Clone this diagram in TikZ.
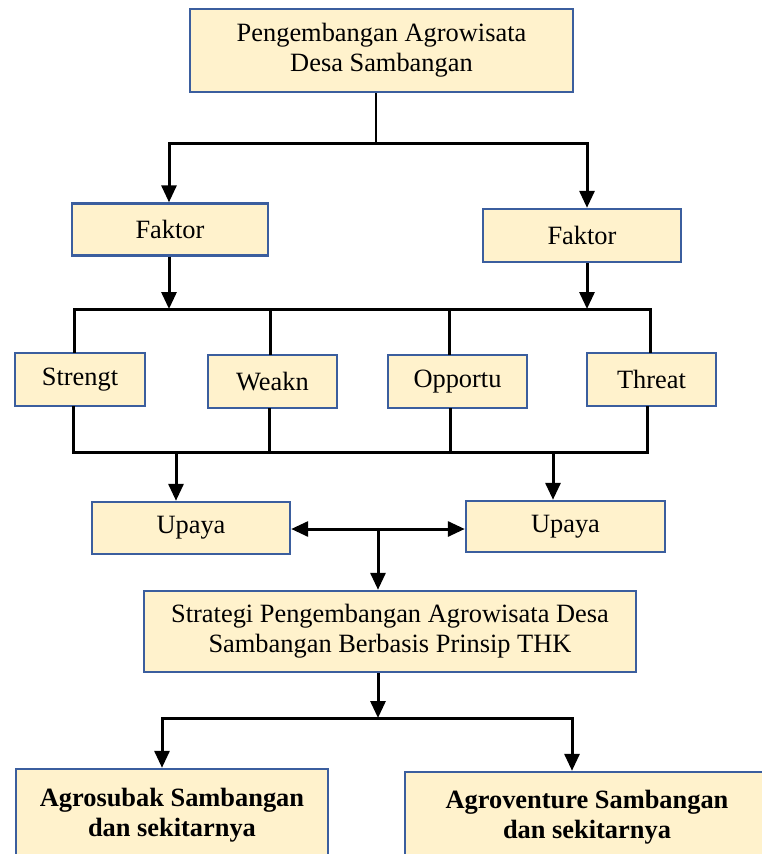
\documentclass[tikz,border=0pt]{standalone}
\usepackage{fontspec}
\setmainfont{Liberation Serif}
\usetikzlibrary{arrows.meta}
\definecolor{boxfill}{HTML}{FFF2CC}
\definecolor{boxline}{HTML}{3B5E9E}
\tikzset{
  box/.style={draw=boxline, fill=boxfill, line width=2.4pt, inner sep=0pt, align=center,
    font=\fontsize{26.4}{30}\selectfont},
  conn/.style={line width=3pt, line join=miter, line cap=rect},
  arr/.style={line width=3pt, -{Triangle[length=17pt,width=15pt]}},
  darr/.style={line width=3pt, {Triangle[length=17pt,width=15pt]}-{Triangle[length=17pt,width=15pt]}},
}
\begin{document}
\begin{tikzpicture}[x=1pt,y=-1pt]
\useasboundingbox (0,0) rectangle (762,854);
\clip (0,0) rectangle (762,854);
% boxes
\node[box, minimum width=383pt, minimum height=83pt] (top) at (381.5,50.5) {Pengembangan Agrowisata\\Desa Sambangan};
\node[box, minimum width=196pt, minimum height=52pt] (fL) at (170,229.5) {Faktor};
\node[box, minimum width=198pt, minimum height=53pt] (fR) at (582,235.5) {Faktor};
\node[box, minimum width=130pt, minimum height=53pt] (S) at (80,379.5) {Strengt};
\node[box, minimum width=129pt, minimum height=53pt] (W) at (272.5,381.5) {Weakn};
\node[box, minimum width=139pt, minimum height=53pt] (O) at (457.5,381.5) {Opportu};
\node[box, minimum width=129pt, minimum height=53pt] (T) at (651.5,379.5) {Threat};
\node[box, minimum width=198pt, minimum height=52pt] (uL) at (191,528) {Upaya};
\node[box, minimum width=199pt, minimum height=51pt] (uR) at (565.5,526.5) {Upaya};
\node[box, minimum width=492pt, minimum height=81pt] (st) at (390,631.5) {Strategi Pengembangan Agrowisata Desa\\Sambangan Berbasis Prinsip THK};
\node[box, minimum width=312pt, minimum height=92pt, font=\fontsize{26.4}{30}\selectfont\bfseries] (bL) at (172,815) {Agrosubak Sambangan\\dan sekitarnya};
\node[box, minimum width=364pt, minimum height=90pt, font=\fontsize{26.4}{30}\selectfont\bfseries] (bR) at (587,817) {Agroventure Sambangan\\dan sekitarnya};
% coordinates
\coordinate (j1) at (376,143);
\coordinate (j1L) at (169,143);
\coordinate (j1R) at (587,143);
\coordinate (bS) at (74,309);
\coordinate (bW) at (270,309);
\coordinate (bO) at (449,309);
\coordinate (bT) at (650,309);
\coordinate (bFL) at (169,309);
\coordinate (bFR) at (587,309);
\coordinate (lS) at (73,452);
\coordinate (lW) at (269,452);
\coordinate (lO) at (450,452);
\coordinate (lT) at (647,452);
\coordinate (lUL) at (176,452);
\coordinate (lUR) at (553,452);
\coordinate (mid) at (378,529);
\coordinate (j3) at (378,718);
\coordinate (j3L) at (162,718);
\coordinate (j3R) at (572,718);
% top to faktor
\draw[line width=1.3pt] (j1 |- top.south) -- (j1);
\draw[conn] (j1L) -- (j1R);
\draw[arr] (j1L) -- (j1L |- fL.north);
\draw[arr] (j1R) -- (j1R |- fR.north);
% faktor to upper bus
\draw[arr] (bFL |- fL.south) -- (bFL);
\draw[arr] (bFR |- fR.south) -- (bFR);
\draw[conn] (bS |- S.north) -- (bS) -- (bT) -- (bT |- T.north);
\draw[conn] (bW) -- (bW |- W.north);
\draw[conn] (bO) -- (bO |- O.north);
% lower bus
\draw[conn] (lS |- S.south) -- (lS) -- (lT) -- (lT |- T.south);
\draw[conn] (lW |- W.south) -- (lW);
\draw[conn] (lO |- O.south) -- (lO);
\draw[arr] (lUL) -- (lUL |- uL.north);
\draw[arr] (lUR) -- (lUR |- uR.north);
% upaya to strategi
\draw[darr] (uL.east |- mid) -- (uR.west |- mid);
\draw[arr] (mid) -- (mid |- st.north);
% strategi to outcomes
\draw[arr] (j3 |- st.south) -- (j3);
\draw[conn] (j3L) -- (j3R);
\draw[arr] (j3L) -- (j3L |- bL.north);
\draw[arr] (j3R) -- (j3R |- bR.north);
\end{tikzpicture}
\end{document}
